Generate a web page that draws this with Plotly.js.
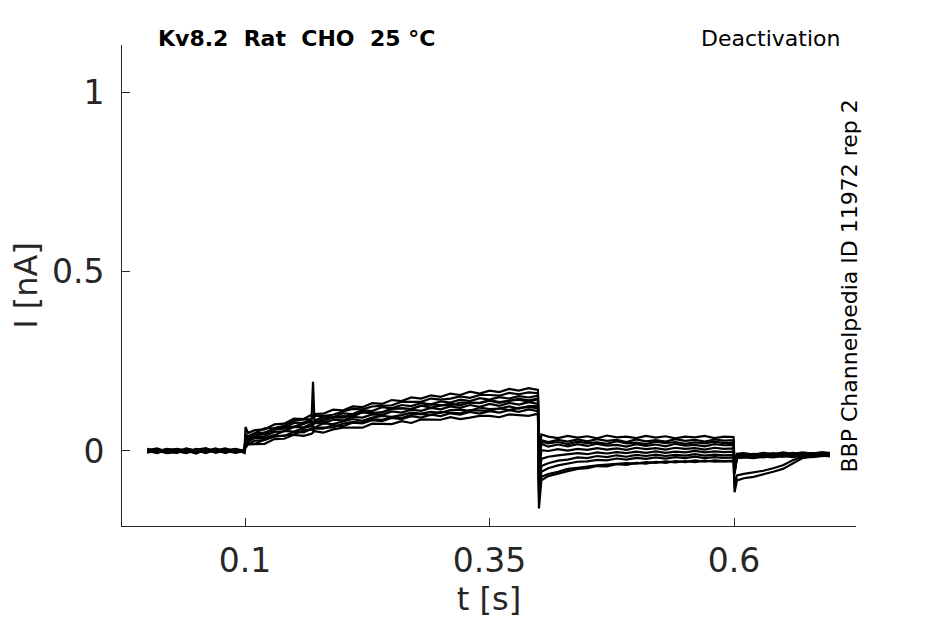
<!DOCTYPE html>
<html>
<head>
<meta charset="utf-8">
<script src="https://cdn.plot.ly/plotly-3.0.1.min.js"></script>
<style>
  html, body { margin: 0; padding: 0; background: #fff; }
  #plot { width: 945px; height: 624px; }
</style>
</head>
<body>
<div id="plot"></div>
<script>
// Kv8.2 deactivation sweeps (t in s, I in nA)

// ── Time base (shared by every sweep) ─────────────────────────────────────────
const tSweep = [
  0, 0.01, 0.02, 0.03, 0.04, 0.05, 0.06, 0.07, 0.08, 0.09, 0.0995,
  0.1005, 0.103, 0.11, 0.12, 0.13, 0.14, 0.15, 0.16, 0.168, 0.1695, 0.171,
  0.18, 0.19, 0.20, 0.21, 0.22, 0.23, 0.24, 0.25, 0.26, 0.27, 0.28, 0.29,
  0.30, 0.31, 0.32, 0.33, 0.34, 0.35, 0.36, 0.37, 0.38, 0.39, 0.3995,
  0.4005, 0.403, 0.41, 0.42, 0.43, 0.44, 0.45, 0.46, 0.47, 0.48, 0.49,
  0.50, 0.51, 0.52, 0.53, 0.54, 0.55, 0.56, 0.57, 0.58, 0.59, 0.5995,
  0.6005, 0.603, 0.61, 0.62, 0.63, 0.64, 0.65, 0.66, 0.67, 0.68, 0.69, 0.698
];

// ── Sweeps (one line per protocol segment) ────────────────────────────────────
const sweep1 = [
  0.004, -0.002, 0.006, 0.001, -0.004, 0.005, 0.000, 0.007, -0.003, 0.003, 0.002,
  0.067, 0.050, 0.058, 0.060, 0.074, 0.076, 0.090, 0.089, 0.101, 0.096, 0.103, 0.104, 0.115, 0.113, 0.124, 0.122, 0.133, 0.131, 0.142, 0.139, 0.149, 0.146, 0.155, 0.151, 0.160, 0.156, 0.165, 0.160, 0.168, 0.164, 0.173, 0.168, 0.175, 0.170,
  -0.020, 0.046, 0.040, 0.036, 0.042, 0.037, 0.041, 0.035, 0.043, 0.038, 0.040, 0.036, 0.042, 0.037, 0.041, 0.035, 0.040, 0.038, 0.042, 0.036, 0.040, 0.039,
  -0.035, -0.008, -0.006, -0.010, -0.005, -0.009, -0.004, -0.008, -0.004, -0.007, -0.003, -0.006
];
const sweep2 = [
  -0.003, 0.005, -0.001, 0.006, 0.002, -0.005, 0.004, -0.002, 0.005, -0.001, 0.004,
  0.046, 0.041, 0.051, 0.063, 0.064, 0.070, 0.084, 0.088, 0.089, 0.095, 0.098, 0.098, 0.101, 0.110, 0.117, 0.116, 0.124, 0.126, 0.127, 0.137, 0.137, 0.137, 0.146, 0.143, 0.146, 0.152, 0.148, 0.156, 0.156, 0.154, 0.162, 0.158, 0.163, 0.161,
  -0.040, 0.030, 0.025, 0.031, 0.026, 0.032, 0.027, 0.033, 0.028, 0.031, 0.025, 0.032, 0.027, 0.030, 0.026, 0.033, 0.028, 0.031, 0.026, 0.032, 0.029, 0.030,
  -0.040, -0.012, -0.010, -0.014, -0.009, -0.012, -0.008, -0.011, -0.007, -0.010, -0.006, -0.009
];
const sweep3 = [
  0.001, -0.006, 0.003, -0.002, 0.007, 0.000, -0.004, 0.003, 0.001, -0.005, 0.000,
  0.040, 0.036, 0.049, 0.051, 0.063, 0.065, 0.078, 0.079, 0.088, 0.193, 0.084, 0.096, 0.094, 0.105, 0.103, 0.114, 0.111, 0.122, 0.119, 0.128, 0.125, 0.134, 0.130, 0.138, 0.135, 0.143, 0.139, 0.147, 0.143, 0.150, 0.146, 0.153, 0.149, 0.154,
  -0.050, 0.020, 0.012, 0.018, 0.013, 0.019, 0.014, 0.020, 0.015, 0.017, 0.012, 0.019, 0.014, 0.018, 0.013, 0.020, 0.015, 0.017, 0.013, 0.019, 0.016, 0.017,
  -0.045, -0.016, -0.013, -0.011, -0.015, -0.010, -0.013, -0.009, -0.012, -0.008, -0.011, -0.010
];
const sweep4 = [
  0.006, 0.000, -0.004, 0.004, -0.001, 0.003, 0.008, -0.003, 0.004, 0.002, -0.003,
  0.032, 0.039, 0.038, 0.051, 0.060, 0.062, 0.067, 0.079, 0.080, 0.078, 0.078, 0.090, 0.093, 0.093, 0.101, 0.108, 0.105, 0.108, 0.118, 0.119, 0.117, 0.126, 0.130, 0.127, 0.126, 0.135, 0.135, 0.134, 0.142, 0.136, 0.140, 0.145, 0.141, 0.146,
  -0.060, 0.002, 0.000, 0.005, 0.001, 0.006, 0.003, 0.008, 0.004, 0.007, 0.003, 0.009, 0.005, 0.008, 0.004, 0.009, 0.006, 0.008, 0.004, 0.009, 0.006, 0.007,
  -0.050, -0.014, -0.016, -0.012, -0.014, -0.011, -0.015, -0.010, -0.013, -0.009, -0.012, -0.008
];
const sweep5 = [
  -0.005, 0.003, 0.002, -0.006, 0.004, -0.002, 0.001, 0.005, -0.006, 0.004, 0.001,
  0.034, 0.029, 0.040, 0.041, 0.053, 0.055, 0.067, 0.066, 0.076, 0.071, 0.078, 0.077, 0.087, 0.085, 0.095, 0.093, 0.102, 0.100, 0.110, 0.107, 0.115, 0.112, 0.120, 0.116, 0.124, 0.120, 0.128, 0.123, 0.131, 0.126, 0.134, 0.129, 0.136, 0.131,
  -0.080, -0.022, -0.016, -0.012, -0.010, -0.006, -0.009, -0.004, -0.007, -0.003, -0.006, -0.002, -0.005, -0.001, -0.005, -0.002, -0.004, 0.000, -0.004, -0.001, -0.003, -0.002,
  -0.055, -0.019, -0.017, -0.015, -0.018, -0.014, -0.016, -0.012, -0.015, -0.011, -0.013, -0.012
];
const sweep6 = [
  0.002, 0.007, -0.003, 0.001, -0.005, 0.006, -0.002, 0.000, 0.006, -0.004, 0.003,
  0.029, 0.026, 0.037, 0.036, 0.044, 0.056, 0.054, 0.064, 0.069, 0.066, 0.065, 0.077, 0.075, 0.082, 0.089, 0.084, 0.093, 0.098, 0.095, 0.100, 0.107, 0.104, 0.109, 0.106, 0.114, 0.115, 0.112, 0.121, 0.117, 0.118, 0.124, 0.118, 0.125, 0.125,
  -0.100, -0.042, -0.034, -0.027, -0.024, -0.018, -0.020, -0.014, -0.017, -0.012, -0.016, -0.011, -0.014, -0.010, -0.014, -0.011, -0.013, -0.009, -0.013, -0.010, -0.012, -0.011,
  -0.060, -0.020, -0.018, -0.020, -0.016, -0.018, -0.014, -0.017, -0.013, -0.015, -0.012, -0.014
];
const sweep7 = [
  -0.001, -0.004, 0.005, 0.003, 0.001, -0.007, 0.005, -0.005, 0.002, 0.006, -0.006,
  0.024, 0.019, 0.029, 0.030, 0.041, 0.042, 0.053, 0.052, 0.062, 0.057, 0.063, 0.062, 0.072, 0.069, 0.079, 0.077, 0.086, 0.083, 0.092, 0.089, 0.097, 0.093, 0.101, 0.097, 0.105, 0.101, 0.109, 0.104, 0.111, 0.107, 0.114, 0.109, 0.116, 0.111,
  -0.160, -0.082, -0.070, -0.062, -0.056, -0.050, -0.048, -0.042, -0.043, -0.037, -0.039, -0.033, -0.035, -0.030, -0.033, -0.028, -0.031, -0.026, -0.030, -0.026, -0.028, -0.027,
  -0.115, -0.082, -0.076, -0.072, -0.066, -0.058, -0.050, -0.034, -0.020, -0.016, -0.014, -0.013
];
const sweep8 = [
  0.003, 0.001, -0.006, -0.003, 0.006, 0.002, -0.006, 0.004, -0.001, 0.000, -0.002,
  0.009, 0.018, 0.019, 0.020, 0.033, 0.034, 0.045, 0.042, 0.048, 0.052, 0.055, 0.051, 0.060, 0.065, 0.064, 0.065, 0.076, 0.076, 0.075, 0.083, 0.078, 0.088, 0.088, 0.087, 0.094, 0.089, 0.093, 0.098, 0.098, 0.094, 0.102, 0.099, 0.098, 0.104,
  -0.130, -0.072, -0.064, -0.058, -0.050, -0.047, -0.043, -0.040, -0.038, -0.036, -0.034, -0.035, -0.031, -0.033, -0.029, -0.032, -0.028, -0.031, -0.027, -0.030, -0.029, -0.028,
  -0.095, -0.068, -0.064, -0.060, -0.055, -0.048, -0.040, -0.026, -0.016, -0.017, -0.013, -0.015
];
const sweep9 = [
  0.002, -0.004, 0.000, 0.005, -0.003, 0.001, 0.006, -0.001, -0.004, 0.005, 0.001,
  0.041, 0.036, 0.046, 0.047, 0.059, 0.068, 0.067, 0.075, 0.084, 0.079, 0.083, 0.083, 0.094, 0.097, 0.096, 0.108, 0.106, 0.107, 0.117, 0.119, 0.117, 0.126, 0.121, 0.127, 0.132, 0.127, 0.135, 0.133, 0.140, 0.134, 0.140, 0.143, 0.137, 0.144,
  -0.030, 0.026, 0.021, 0.025, 0.019, 0.026, 0.022, 0.024, 0.020, 0.027, 0.021, 0.023, 0.019, 0.026, 0.022, 0.025, 0.020, 0.024, 0.021, 0.026, 0.022, 0.023,
  -0.038, -0.010, -0.012, -0.008, -0.011, -0.006, -0.010, -0.005, -0.009, -0.006, -0.008, -0.005
];
const sweep10 = [
  -0.004, 0.002, 0.004, -0.002, -0.006, 0.003, -0.001, 0.002, 0.007, -0.002, 0.003,
  0.015, 0.022, 0.020, 0.032, 0.040, 0.042, 0.046, 0.058, 0.060, 0.057, 0.065, 0.065, 0.066, 0.076, 0.081, 0.079, 0.089, 0.087, 0.094, 0.092, 0.101, 0.103, 0.100, 0.109, 0.106, 0.105, 0.114, 0.113, 0.112, 0.119, 0.114, 0.120, 0.122, 0.119,
  -0.110, -0.058, -0.048, -0.040, -0.036, -0.030, -0.029, -0.025, -0.026, -0.021, -0.024, -0.019, -0.022, -0.018, -0.021, -0.017, -0.020, -0.016, -0.020, -0.017, -0.019, -0.018,
  -0.065, -0.017, -0.015, -0.017, -0.013, -0.016, -0.012, -0.015, -0.011, -0.014, -0.010, -0.013
];
const sweeps = [sweep1, sweep2, sweep3, sweep4, sweep5, sweep6, sweep7, sweep8, sweep9, sweep10];

// ── Axis ticks and labels ─────────────────────────────────────────────────────
const xTicks = [0.1, 0.35, 0.6];
const xTickText = ['0.1', '0.35', '0.6'];
const yTicks = [0, 0.5, 1];
const yTickText = ['0', '0.5', '1'];

const headerLeft = 'Kv8.2  Rat  CHO  25 °C';
const headerRight = 'Deactivation';
const sideLabel = 'BBP Channelpedia ID 11972 rep 2';

// ── Plot ──────────────────────────────────────────────────────────────────────
const ink = '#262626';
const FONT = 'DejaVu Sans, sans-serif';

const traces = sweeps.map(ys => ({
  x: tSweep,
  y: ys,
  type: 'scatter',
  mode: 'lines',
  line: { color: '#000', width: 2.2 },
  hoverinfo: 'skip',
  showlegend: false,
}));

const layout = {
  width: 945,
  height: 624,
  paper_bgcolor: '#fff',
  plot_bgcolor: '#fff',
  font: { family: FONT, color: ink },
  margin: { l: 122, r: 89, t: 45, b: 98 },
  showlegend: false,
  xaxis: {
    range: [-0.0258, 0.7247],
    tickvals: xTicks,
    ticktext: xTickText,
    ticks: 'inside',
    ticklen: 8,
    tickwidth: 1,
    tickcolor: ink,
    showline: true,
    linecolor: ink,
    linewidth: 1,
    showgrid: false,
    zeroline: false,
    tickfont: { size: 33, color: ink },
    ticklabelstandoff: 5,
    title: { text: 't [s]', font: { size: 32, color: ink }, standoff: 2 },
  },
  yaxis: {
    range: [-0.209, 1.131],
    tickvals: yTicks,
    ticktext: yTickText,
    ticks: 'inside',
    ticklen: 8,
    tickwidth: 1,
    tickcolor: ink,
    showline: true,
    linecolor: ink,
    linewidth: 1,
    showgrid: false,
    zeroline: false,
    tickfont: { size: 33, color: ink },
    ticklabelstandoff: 10,
    title: { text: 'I [nA]', font: { size: 32, color: ink }, standoff: 4 },
  },
  annotations: [
    {
      text: '<b>' + headerLeft + '</b>',
      xref: 'paper', yref: 'paper',
      x: 0.046, y: 1.0125, xanchor: 'left', yanchor: 'middle',
      showarrow: false,
      font: { family: FONT, size: 22, color: '#000' },
    },
    {
      text: headerRight,
      xref: 'paper', yref: 'paper',
      x: 0.981, y: 1.0125, xanchor: 'right', yanchor: 'middle',
      showarrow: false,
      font: { family: FONT, size: 22, color: '#000' },
    },
    {
      text: sideLabel,
      xref: 'paper', yref: 'paper',
      x: 0.9918, y: 0.5, xanchor: 'center', yanchor: 'middle',
      textangle: -90,
      showarrow: false,
      font: { family: FONT, size: 22, color: '#000' },
    },
  ],
};

Plotly.newPlot('plot', traces, layout, { displayModeBar: false, staticPlot: true });
</script>
</body>
</html>
